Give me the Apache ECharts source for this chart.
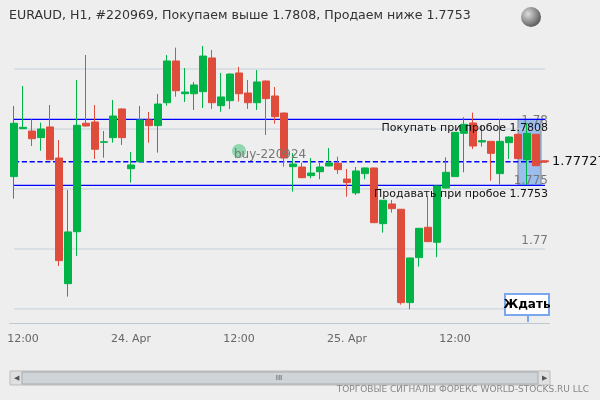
<!DOCTYPE html>
<html><head><meta charset="utf-8">
<script src="https://cdn.jsdelivr.net/npm/echarts@6/dist/echarts.min.js"></script>
<style>html,body{margin:0;padding:0;background:#eeeeee}#c{width:600px;height:400px}</style>
</head><body><div id="c"></div>
<script>
// [open, close, low, high]
const ohlc = [
[1.77603,1.78048,1.77419,1.78192],[1.78003,1.78014,1.77998,1.78358],[1.77983,1.77919,1.77858,1.78081],[1.77928,1.78000,1.77819,1.78053],
[1.78017,1.77744,1.77744,1.78200],[1.77758,1.76903,1.76858,1.77908],[1.76711,1.77142,1.76603,1.77492],[1.77144,1.78031,1.76942,1.78408],
[1.78048,1.78025,1.78019,1.78617],[1.78058,1.77831,1.77750,1.78200],[1.77889,1.77894,1.77761,1.77983],[1.77928,1.78108,1.77886,1.78242],
[1.78167,1.77928,1.77867,1.78171],[1.77669,1.77700,1.77553,1.77808],[1.77728,1.78075,1.77725,1.78192],[1.78075,1.78028,1.77886,1.78142],
[1.78028,1.78208,1.77803,1.78292],[1.78219,1.78567,1.78194,1.78617],[1.78567,1.78319,1.78269,1.78678],[1.78294,1.78308,1.78225,1.78508],
[1.78294,1.78367,1.78158,1.78392],[1.78311,1.78608,1.78175,1.78692],[1.78592,1.78219,1.78167,1.78658],[1.78194,1.78267,1.78144,1.78467],
[1.78236,1.78458,1.78167,1.78462],[1.78467,1.78294,1.78228,1.78517],[1.78300,1.78219,1.78167,1.78408],[1.78219,1.78392,1.78158,1.78492],
[1.78400,1.78253,1.77950,1.78404],[1.78275,1.78103,1.78044,1.78350],[1.78133,1.77758,1.77686,1.78137],[1.77686,1.77708,1.77478,1.77800],
[1.77683,1.77594,1.77590,1.77719],[1.77611,1.77633,1.77589,1.77758],[1.77644,1.77683,1.77581,1.77717],[1.77692,1.77717,1.77689,1.77842],
[1.77714,1.77661,1.77625,1.77769],[1.77583,1.77553,1.77436,1.77667],[1.77467,1.77650,1.77450,1.77683],[1.77628,1.77675,1.77581,1.77679],
[1.77675,1.77219,1.77217,1.77678],[1.77211,1.77406,1.77136,1.77408],[1.77375,1.77336,1.77303,1.77408],[1.77331,1.76553,1.76536,1.77333],
[1.76553,1.76925,1.76498,1.76928],[1.76928,1.77172,1.76853,1.77175],[1.77181,1.77061,1.77058,1.77442],[1.77056,1.77525,1.76931,1.77529],
[1.77508,1.77639,1.77504,1.77764],[1.77603,1.77972,1.77600,1.77975],[1.77964,1.78039,1.77639,1.78098],[1.78050,1.77858,1.77833,1.78136],
[1.77892,1.77903,1.77853,1.78025],[1.77897,1.77797,1.77569,1.77900],[1.77628,1.77897,1.77536,1.78081],[1.77886,1.77933,1.77750,1.77938],
[1.77956,1.77753,1.77750,1.77958],[1.77744,1.77964,1.77536,1.78048],[1.77956,1.77694,1.77692,1.77958],[1.77735,1.77727,1.77727,1.77735]
];
const startDay = 23, startHour = 11;
const categories = [];
for (let i = 0; i < ohlc.length; i++) {
  const h = startHour + i; const d = startDay + Math.floor(h / 24);
  categories.push(d + '.04 ' + String(h % 24).padStart(2, '0') + ':00');
}
const gridValues = [1.765, 1.77, 1.775, 1.78, 1.785];
const gridLabels = ['1.765', '1.77', '1.775', '1.78', ''];
const buyLevel = 1.7808, sellLevel = 1.7753, currentPrice = 1.77727;
const title = 'EURAUD, H1, #220969, Покупаем выше 1.7808, Продаем ниже 1.7753';
const buyText = 'Покупать при пробое 1.7808', sellText = 'Продавать при пробое 1.7753';
const signalLabel = 'buy-220924', signalIndex = 25, signalPrice = 1.7775;
const waitText = 'Ждать';
const footer = 'ТОРГОВЫЕ СИГНАЛЫ ФОРЕКС WORLD-STOCKS.RU LLC';

const chart = echarts.init(document.getElementById('c'));
const lineMark = (v, color, type, w) => ({
  type: 'line', data: categories.map(() => v), symbol: 'none', silent: true, z: 1,
  lineStyle: {color: color, width: w, type: type}
});
const series = [];
gridValues.forEach(v => series.push(lineMark(v, '#c6d0dc', 'solid', 1)));
series.push(Object.assign(lineMark(buyLevel, '#0000ff', 'solid', 1.3), {z: 3}));
series.push(Object.assign(lineMark(sellLevel, '#0000ff', 'solid', 1.3), {z: 3}));
series.push(Object.assign(lineMark(currentPrice, '#0000ff', 'dashed', 1.3), {z: 3}));
series.push({
  type: 'candlestick', data: ohlc, barWidth: 7, z: 4,
  itemStyle: {color: '#00b347', color0: '#e04c3c', borderColor: '#00b347', borderColor0: '#e04c3c', borderWidth: 1}
});
chart.setOption({
  backgroundColor: '#eeeeee',
  animation: false,
  title: {text: title, left: 4, top: 4, textStyle: {fontSize: 12.6, fontWeight: 'normal', color: '#333', fontFamily: 'DejaVu Sans'}},
  grid: {left: 9.5, right: 50.5, top: 45, bottom: 77},
  xAxis: {type: 'category', data: categories, boundaryGap: true,
    axisLine: {lineStyle: {color: '#c0c8d4'}},
    axisTick: {alignWithLabel: true, length: 6, lineStyle: {color: '#c0c8d4'},
      interval: (i, v) => v.endsWith(' 12:00') || v.endsWith(' 00:00')},
    axisLabel: {color: '#666', fontSize: 11, fontFamily: 'DejaVu Sans', margin: 11,
      interval: (i, v) => v.endsWith(' 12:00') || v.endsWith(' 00:00'),
      formatter: v => v.endsWith(' 12:00') ? '12:00' : parseInt(v) + '. Apr'},
    splitLine: {show: false}},
  yAxis: {type: 'value', min: 1.76383, max: 1.787, show: false, splitLine: {show: false}},
  series: series
});

const px = (i, v) => chart.convertToPixel({gridIndex: 0}, [i, v]);
const p1 = px(56, buyLevel), p2 = px(58, sellLevel), ps = px(signalIndex, signalPrice);
const right = px(59, 0)[0] + 3;
const g = [
  {type: 'rect', shape: {x: p1[0], y: p1[1], width: p2[0] - p1[0] + 5, height: p2[1] - p1[1]},
    style: {fill: 'rgba(120,170,240,0.7)', stroke: '#888', lineWidth: 1}, z: 1},
  {type: 'circle', shape: {cx: ps[0], cy: ps[1] - 8, r: 7}, style: {fill: 'rgba(0,180,80,0.4)'}, z: 5},
  {type: 'text', x: ps[0] - 5, y: ps[1] - 10, style: {text: signalLabel, fill: '#777', fontSize: 12, fontFamily: 'DejaVu Sans'}, z: 5},
  {type: 'text', x: right, y: px(0, buyLevel)[1] + 3, style: {text: buyText, fill: '#111', fontSize: 11, fontFamily: 'DejaVu Sans', align: 'right', verticalAlign: 'top'}, z: 5},
  {type: 'text', x: right, y: px(0, sellLevel)[1] + 3, style: {text: sellText, fill: '#111', fontSize: 11, fontFamily: 'DejaVu Sans', align: 'right', verticalAlign: 'top'}, z: 5},
  {type: 'text', x: right + 4, y: px(0, currentPrice)[1], style: {text: String(currentPrice), fill: '#111', fontSize: 13, fontFamily: 'DejaVu Sans', verticalAlign: 'middle'}, z: 5},
  {type: 'line', shape: {x1: right - 8, y1: px(0, currentPrice)[1], x2: right - 1, y2: px(0, currentPrice)[1]}, style: {stroke: '#e04c3c', lineWidth: 2}, z: 5},
  {type: 'line', shape: {x1: 528, y1: 315, x2: 528, y2: 322}, style: {stroke: '#7aa7ee', lineWidth: 2}, z: 5},
  {type: 'rect', shape: {x: 505, y: 294, width: 44, height: 21}, style: {fill: '#fff', stroke: '#7aa7ee', lineWidth: 2}, z: 5},
  {type: 'text', x: 527, y: 305, style: {text: waitText, fill: '#000', fontSize: 12, fontWeight: 'bold', fontFamily: 'DejaVu Sans', align: 'center', verticalAlign: 'middle'}, z: 6},
  {type: 'circle', shape: {cx: 531, cy: 17, r: 10}, style: {fill: new echarts.graphic.RadialGradient(0.35, 0.35, 0.8, [{offset: 0, color: '#ddd'}, {offset: 1, color: '#444'}])}},
  {type: 'rect', shape: {x: 10, y: 371, width: 540, height: 14}, style: {fill: '#e0e0e0', stroke: '#bbb'}},
  {type: 'rect', shape: {x: 22, y: 372, width: 516, height: 12}, style: {fill: '#cfd4d9', stroke: '#aaa'}},
  {type: 'text', x: 279, y: 378, style: {text: 'III', fill: '#555', fontSize: 8, align: 'center', verticalAlign: 'middle'}},
  {type: 'text', x: 16, y: 378, style: {text: '◀', fill: '#555', fontSize: 7, align: 'center', verticalAlign: 'middle'}},
  {type: 'text', x: 544, y: 378, style: {text: '▶', fill: '#555', fontSize: 7, align: 'center', verticalAlign: 'middle'}},
  {type: 'text', x: 589, y: 390, style: {text: footer, fill: '#888', fontSize: 9, fontFamily: 'DejaVu Sans', align: 'right', verticalAlign: 'middle'}}
];
gridValues.forEach((v, i) => {
  if (gridLabels[i]) g.push({type: 'text', x: right, y: px(0, v)[1] - 2, style: {text: gridLabels[i], fill: '#777', fontSize: 12, fontFamily: 'DejaVu Sans', align: 'right', verticalAlign: 'bottom'}, z: 2});
});
chart.setOption({graphic: g});
</script></body></html>
